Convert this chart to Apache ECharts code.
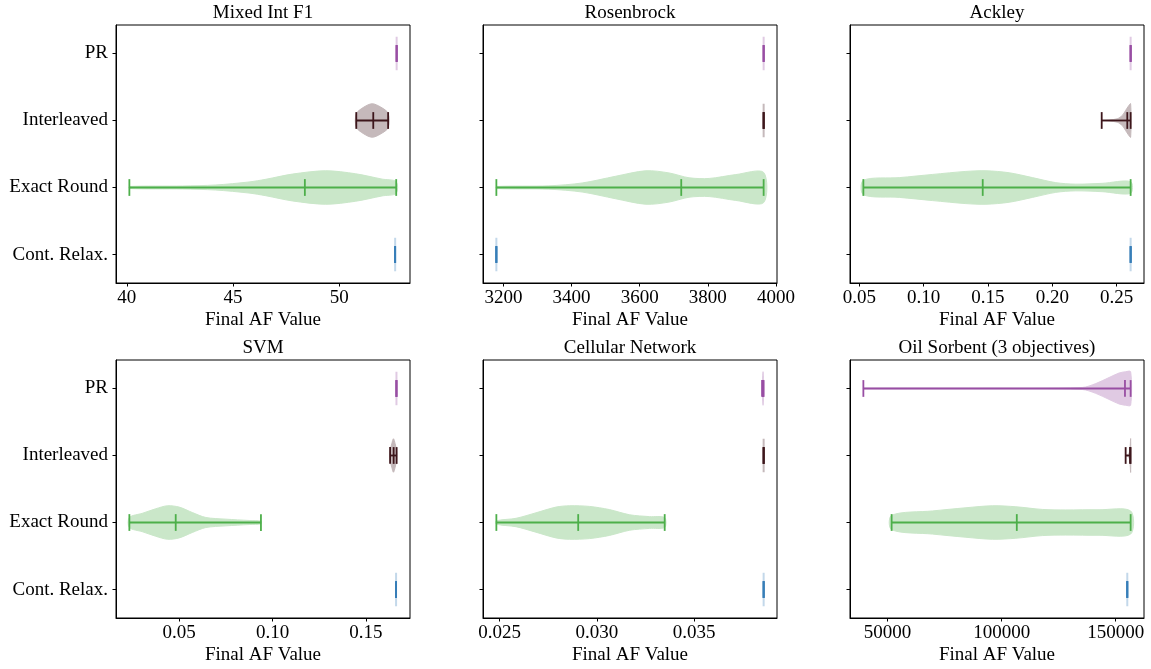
<!DOCTYPE html>
<html>
<head>
<meta charset="utf-8">
<script src="https://cdn.jsdelivr.net/npm/echarts@6/dist/echarts.min.js"></script>
<style>html,body{margin:0;padding:0;background:#fff}#chart{width:1151px;height:669px}</style>
</head>
<body>
<div id="chart"></div>
<script>
// ---------------- DATA ----------------
const methods = ['Cont. Relax.', 'Exact Round', 'Interleaved', 'PR'];
const panelTitles = ['Mixed Int F1', 'Rosenbrock', 'Ackley', 'SVM', 'Cellular Network', 'Oil Sorbent (3 objectives)'];
const xAxisTitle = 'Final AF Value';

// tick labels per panel
const mixedIntTicks = ['40', '45', '50'];
const rosenbrockTicks = ['3200', '3400', '3600', '3800', '4000'];
const ackleyTicks = ['0.05', '0.10', '0.15', '0.20', '0.25'];
const svmTicks = ['0.05', '0.10', '0.15'];
const cellularTicks = ['0.025', '0.030', '0.035'];
const oilTicks = ['50000', '100000', '150000'];

// [min, median, max] per method (order of `methods`)
const mixedIntStats = [[52.63, 52.63, 52.63], [40.12, 48.38, 52.68], [50.80, 51.60, 52.30], [52.70, 52.70, 52.70]];
const rosenbrockStats = [[3179, 3179, 3179], [3179, 3722, 3964], [3964, 3964, 3964], [3964, 3964, 3964]];
const ackleyStats = [[0.2609, 0.2609, 0.2609], [0.0531, 0.1459, 0.2609], [0.2384, 0.2583, 0.2609], [0.2609, 0.2609, 0.2609]];
const svmStats = [[0.1661, 0.1661, 0.1661], [0.0234, 0.0482, 0.0938], [0.1629, 0.1648, 0.1664], [0.1663, 0.1663, 0.1663]];
const cellularStats = [[0.03858, 0.03858, 0.03858], [0.02483, 0.02904, 0.03349], [0.03858, 0.03858, 0.03858], [0.03850, 0.03854, 0.03858]];
const oilStats = [[155100, 155100, 155100], [51751, 106645, 156567], [154378, 156300, 156567], [39361, 154080, 156567]];

// density profiles: [value, relative half-width] (empty = all values equal)
const mixedIntDensity = [
  [],
  [[40.12, 0.06], [42.62, 0.09], [44.18, 0.15], [45.75, 0.33], [46.54, 0.49], [47.79, 0.8], [49.36, 1.0], [50.77, 0.82], [52.02, 0.5], [52.68, 0.35]],
  [[50.80, 0.4], [51.16, 0.8], [51.55, 1.0], [51.95, 0.8], [52.30, 0.43]],
  []
];
const rosenbrockDensity = [
  [],
  [[3179, 0.06], [3333, 0.1], [3431, 0.27], [3529, 0.67], [3618, 1.0], [3686, 0.87], [3745, 0.58], [3804, 0.54], [3882, 0.77], [3964, 0.9]],
  [],
  []
];
const ackleyDensity = [
  [],
  [[0.0531, 0.43], [0.0811, 0.59], [0.1069, 0.78], [0.1328, 0.96], [0.1484, 1.0], [0.1665, 0.88], [0.1846, 0.59], [0.2027, 0.29], [0.2182, 0.2], [0.2389, 0.25], [0.2609, 0.35]],
  [[0.2384, 0.01], [0.2441, 0.03], [0.2505, 0.1], [0.2544, 0.3], [0.2570, 0.6], [0.2591, 0.85], [0.2609, 1.0]],
  []
];
const svmDensity = [
  [],
  [[0.0234, 0.3], [0.0304, 0.55], [0.0375, 0.82], [0.0438, 1.0], [0.0500, 0.92], [0.0572, 0.59], [0.0643, 0.3], [0.0750, 0.2], [0.0875, 0.12], [0.0938, 0.08]],
  [[0.1629, 0.25], [0.1638, 0.7], [0.1647, 1.0], [0.1656, 0.7], [0.1664, 0.25]],
  []
];
const cellularDensity = [
  [],
  [[0.02483, 0.1], [0.02584, 0.25], [0.02687, 0.58], [0.02790, 0.92], [0.02859, 1.0], [0.02962, 0.96], [0.03065, 0.77], [0.03169, 0.46], [0.03272, 0.35], [0.03349, 0.29]],
  [],
  [[0.03850, 0.05], [0.03855, 1.0], [0.03858, 0.3]]
];
const oilDensity = [
  [],
  [[51751, 0.43], [69702, 0.69], [84326, 0.88], [95972, 1.0], [106217, 0.94], [117863, 0.78], [128108, 0.75], [142688, 0.76], [156567, 0.69]],
  [[154378, 0.02], [155500, 0.05], [156200, 0.3], [156567, 1.0]],
  [[39361, 0.02], [91594, 0.02], [135377, 0.06], [141242, 0.29], [147066, 0.65], [151444, 0.92], [154378, 1.0], [156567, 1.0]]
];

// ---------------- STYLE / LAYOUT ----------------
const methodColors = ['#377eb8', '#4daf4a', '#3d161b', '#984ea3'];
const FONT = 'Liberation Serif';
const FS = 19;
const colLefts = [116, 483, 850];
const rowTops = [25, 360];
const gridW = 294, gridH = 258;

function lighten(hex, a) {
  const r = parseInt(hex.slice(1, 3), 16), g = parseInt(hex.slice(3, 5), 16), b = parseInt(hex.slice(5, 7), 16);
  const f = c => Math.round(255 - a * (255 - c));
  return 'rgb(' + f(r) + ',' + f(g) + ',' + f(b) + ')';
}
const lightColors = methodColors.map(c => lighten(c, 0.3));

const panels = [
  { ticks: mixedIntTicks, stats: mixedIntStats, dens: mixedIntDensity },
  { ticks: rosenbrockTicks, stats: rosenbrockStats, dens: rosenbrockDensity },
  { ticks: ackleyTicks, stats: ackleyStats, dens: ackleyDensity },
  { ticks: svmTicks, stats: svmStats, dens: svmDensity },
  { ticks: cellularTicks, stats: cellularStats, dens: cellularDensity },
  { ticks: oilTicks, stats: oilStats, dens: oilDensity }
];

const HALF = 0.25;     // max half-width of a violin (category units)
const CAP = 0.125;     // half-length of the caps

function makeRender(stats, dens) {
  return function (params, api) {
    const i = params.dataIndex;
    const pos = i + 1;
    const s = stats[i], d = dens[i];
    const dark = methodColors[i], light = lightColors[i];
    const children = [];
    if (d.length) {
      const pts = [];
      d.forEach(p => pts.push(api.coord([p[0], pos + p[1] * HALF])));
      for (let k = d.length - 1; k >= 0; k--) pts.push(api.coord([d[k][0], pos - d[k][1] * HALF]));
      children.push({ type: 'polygon', shape: { points: pts, smooth: 0.3 }, style: { fill: light, stroke: light, lineWidth: 1 } });
    } else {
      const a = api.coord([s[0], pos - HALF]), b = api.coord([s[0], pos + HALF]);
      children.push({ type: 'line', shape: { x1: a[0], y1: a[1], x2: b[0], y2: b[1] }, style: { stroke: light, lineWidth: 2 } });
    }
    const p0 = api.coord([s[0], pos]), p1 = api.coord([s[2], pos]);
    children.push({ type: 'line', shape: { x1: p0[0], y1: p0[1], x2: p1[0], y2: p1[1] }, style: { stroke: dark, lineWidth: 1.8 } });
    [s[0], s[1], s[2]].forEach(v => {
      const a = api.coord([v, pos - CAP]), b = api.coord([v, pos + CAP]);
      children.push({ type: 'line', shape: { x1: a[0], y1: a[1], x2: b[0], y2: b[1] }, style: { stroke: dark, lineWidth: 1.8 } });
    });
    return { type: 'group', children };
  };
}

const option = { animation: false, backgroundColor: '#fff', grid: [], xAxis: [], yAxis: [], series: [], graphic: [] };

panels.forEach((p, idx) => {
  const row = Math.floor(idx / 3), col = idx % 3;
  const left = colLefts[col], top = rowTops[row];
  let lo = Infinity, hi = -Infinity;
  p.stats.forEach(s => { lo = Math.min(lo, s[0]); hi = Math.max(hi, s[2]); });
  const pad = (hi - lo) * 0.05;
  const tickVals = p.ticks.map(Number);

  option.grid.push({ left: left, top: top, width: gridW, height: gridH, show: true, borderColor: '#000', borderWidth: 1, backgroundColor: 'transparent' });
  option.xAxis.push({
    gridIndex: idx, type: 'value', min: lo - pad, max: hi + pad,
    axisLine: { show: true, lineStyle: { color: '#000', width: 1 } },
    axisTick: { show: true, customValues: tickVals, length: 3.5, lineStyle: { color: '#000', width: 1 } },
    axisLabel: {
      customValues: tickVals, margin: 6, color: '#000', fontFamily: FONT, fontSize: FS,
      formatter: v => {
        let best = 0;
        tickVals.forEach((t, k) => { if (Math.abs(t - v) < Math.abs(tickVals[best] - v)) best = k; });
        return p.ticks[best];
      }
    },
    splitLine: { show: false },
    name: xAxisTitle, nameLocation: 'middle', nameGap: 28,
    nameTextStyle: { color: '#000', fontFamily: FONT, fontSize: FS }
  });
  option.yAxis.push({
    gridIndex: idx, type: 'value', min: 0.575, max: 4.425,
    axisLine: { show: true, lineStyle: { color: '#000', width: 1 } },
    axisTick: { show: true, customValues: [1, 2, 3, 4], length: 3.5, lineStyle: { color: '#000', width: 1 } },
    axisLabel: {
      show: col === 0, customValues: [1, 2, 3, 4], margin: 8, color: '#000', fontFamily: FONT, fontSize: FS,
      formatter: v => methods[Math.round(v) - 1]
    },
    splitLine: { show: false }
  });
  option.series.push({
    type: 'custom', xAxisIndex: idx, yAxisIndex: idx, silent: true, clip: false,
    renderItem: makeRender(p.stats, p.dens),
    encode: { x: 0, y: 1 },
    data: p.stats.map((s, i) => [s[0], i + 1])
  });
  option.graphic.push({
    type: 'text', x: left + gridW / 2, y: row === 0 ? 13 : 348,
    style: { text: panelTitles[idx], align: 'center', verticalAlign: 'middle', textAlign: 'center', textVerticalAlign: 'middle', fontFamily: FONT, fontSize: FS, fill: '#000' }
  });
});

const chart = echarts.init(document.getElementById('chart'), null, { renderer: 'canvas' });
chart.setOption(option);
</script>
</body>
</html>
